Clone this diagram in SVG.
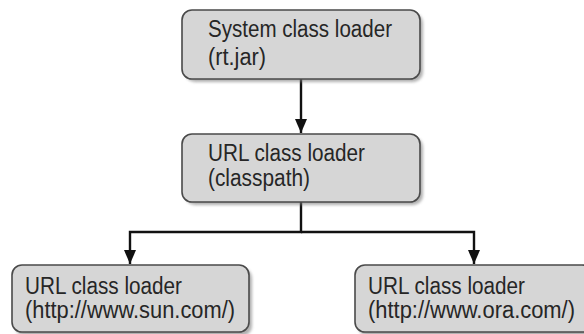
<svg xmlns="http://www.w3.org/2000/svg" width="584" height="334" viewBox="0 0 584 334">
<style>
.box{fill:#d6d6d6;stroke:#4a4a4a;stroke-width:1.6}
.shadow{fill:#7a7a7a;opacity:0.6;filter:url(#blur)}
.t{font-family:"Liberation Sans",Arial,sans-serif;font-size:23px;fill:#262626}
.con{fill:none;stroke:#111;stroke-width:2.4}
</style>
<defs>
<filter id="blur" x="-10%" y="-10%" width="120%" height="130%"><feGaussianBlur stdDeviation="1.6"/></filter>
<marker id="arr" viewBox="0 0 14 12" refX="14" refY="6" markerUnits="userSpaceOnUse" markerWidth="14" markerHeight="12" orient="auto">
<path d="M0,0 L14,6 L0,12 Z" fill="#111"/>
</marker>
</defs>
<rect width="584" height="334" fill="#fff"/>
<g id="connectors">
<path class="con" d="M301,79 V133" marker-end="url(#arr)"/>
<path class="con" d="M301,202 V232 H130 V264" marker-end="url(#arr)"/>
<path class="con" d="M301,232 H474 V264" marker-end="url(#arr)"/>
</g>
<g id="system">
<rect class="shadow" x="185" y="13" width="238" height="69" rx="10"/>
<rect class="box" x="182" y="10" width="238" height="69" rx="10"/>
<text class="t" x="208" y="37" textLength="184" lengthAdjust="spacingAndGlyphs">System class loader</text>
<text class="t" x="208" y="65" textLength="58" lengthAdjust="spacingAndGlyphs">(rt.jar)</text>
</g>
<g id="classpath">
<rect class="shadow" x="185" y="137" width="238" height="68" rx="10"/>
<rect class="box" x="182" y="134" width="238" height="68" rx="10"/>
<text class="t" x="208" y="161" textLength="157" lengthAdjust="spacingAndGlyphs">URL class loader</text>
<text class="t" x="208" y="186" textLength="102" lengthAdjust="spacingAndGlyphs">(classpath)</text>
</g>
<g id="sun">
<rect class="shadow" x="15" y="268" width="237" height="68" rx="10"/>
<rect class="box" x="12" y="265" width="237" height="67" rx="10"/>
<text class="t" x="25" y="294" textLength="157" lengthAdjust="spacingAndGlyphs">URL class loader</text>
<text class="t" x="25" y="318" textLength="210" lengthAdjust="spacingAndGlyphs">(http://www.sun.com/)</text>
</g>
<g id="ora">
<rect class="shadow" x="358" y="268" width="237" height="68" rx="10"/>
<rect class="box" x="355" y="265" width="237" height="67" rx="10"/>
<text class="t" x="368" y="294" textLength="157" lengthAdjust="spacingAndGlyphs">URL class loader</text>
<text class="t" x="368" y="318" textLength="207" lengthAdjust="spacingAndGlyphs">(http://www.ora.com/)</text>
</g>
</svg>
